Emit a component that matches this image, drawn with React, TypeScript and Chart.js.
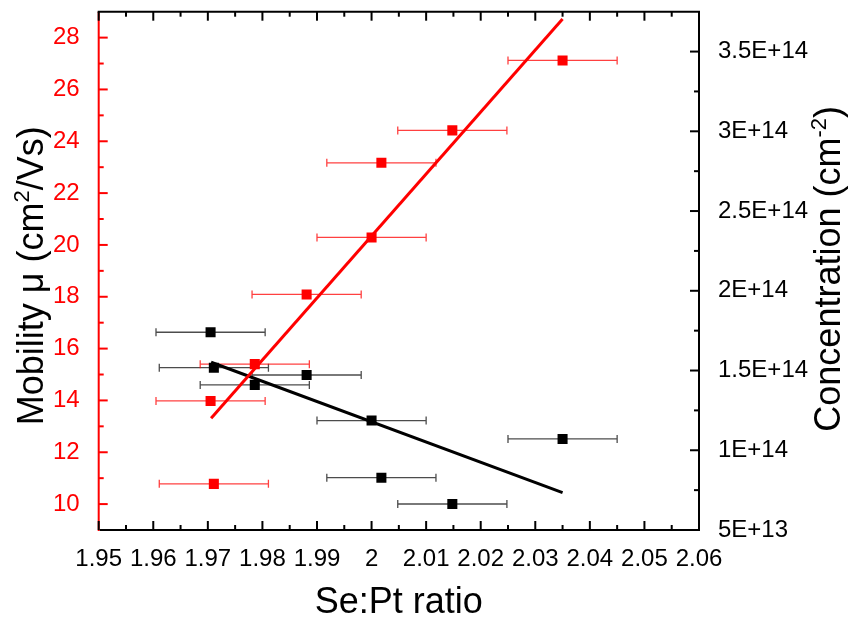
import React, { useEffect, useRef } from 'react';
import { Chart, registerables } from 'chart.js';

Chart.register(...registerables);

// ---- data ----
const ratio = [1.9705, 1.9711, 1.9786, 1.9881, 2.0, 2.0018, 2.0148, 2.035];
const ratioErr = [0.01, 0.01, 0.01, 0.01, 0.01, 0.01, 0.01, 0.01];
const mobility = [13.98, 10.78, 15.4, 18.09, 20.29, 23.17, 24.42, 27.12];
const concentration = [1.74e14, 1.518e14, 1.41e14, 1.472e14, 1.186e14, 8.28e13, 6.63e13, 1.071e14];

const fitRatio = [1.9706, 2.035];
const mobilityFit = [13.31, 28.72];
const concentrationFit = [1.552e14, 7.34e13];

const xTicks = [1.95, 1.96, 1.97, 1.98, 1.99, 2.0, 2.01, 2.02, 2.03, 2.04, 2.05, 2.06];
const yTicks = [10, 12, 14, 16, 18, 20, 22, 24, 26, 28];
const y2Ticks = [5e13, 1e14, 1.5e14, 2e14, 2.5e14, 3e14, 3.5e14];

const FONT = "'Liberation Sans', Arial, sans-serif";
const RED = '#ff0000';
const BLACK = '#000000';

type Part = { t: string; sup?: boolean };

function drawRich(ctx: CanvasRenderingContext2D, parts: Part[], size: number, cx: number, cy: number, rot: number, color: string) {
  ctx.save();
  ctx.translate(cx, cy);
  ctx.rotate(rot);
  ctx.fillStyle = color;
  ctx.textBaseline = 'alphabetic';
  ctx.textAlign = 'left';
  const supSize = Math.round(size * 0.62);
  let total = 0;
  const widths = parts.map((p) => {
    ctx.font = `${p.sup ? supSize : size}px ${FONT}`;
    const w = ctx.measureText(p.t).width;
    total += w;
    return w;
  });
  let x = -total / 2;
  parts.forEach((p, i) => {
    ctx.font = `${p.sup ? supSize : size}px ${FONT}`;
    ctx.fillText(p.t, x, p.sup ? -size * 0.38 : 0);
    x += widths[i];
  });
  ctx.restore();
}

const mids = (arr: number[]) => arr.slice(0, -1).map((v, i) => (v + arr[i + 1]) / 2);

const errorBarPlugin = {
  id: 'errorBars',
  beforeDatasetsDraw(chart: any) {
    const ctx = chart.ctx as CanvasRenderingContext2D;
    const xs = chart.scales.x;
    const series = [
      { vals: concentration, scale: chart.scales.y2, color: 'rgba(0,0,0,0.7)' },
      { vals: mobility, scale: chart.scales.y, color: 'rgba(255,0,0,0.75)' },
    ];
    ctx.save();
    ctx.lineWidth = 1.3;
    series.forEach((s) => {
      ctx.strokeStyle = s.color;
      s.vals.forEach((v, i) => {
        const y = s.scale.getPixelForValue(v);
        const x1 = xs.getPixelForValue(ratio[i] - ratioErr[i]);
        const x2 = xs.getPixelForValue(ratio[i] + ratioErr[i]);
        ctx.beginPath();
        ctx.moveTo(x1, y);
        ctx.lineTo(x2, y);
        ctx.moveTo(x1, y - 4);
        ctx.lineTo(x1, y + 4);
        ctx.moveTo(x2, y - 4);
        ctx.lineTo(x2, y + 4);
        ctx.stroke();
      });
    });
    ctx.restore();
  },
};

const framePlugin = {
  id: 'frame',
  afterDraw(chart: any) {
    const ctx = chart.ctx as CanvasRenderingContext2D;
    const ca = chart.chartArea;
    const xs = chart.scales.x;
    const ys = chart.scales.y;
    const y2 = chart.scales.y2;
    const MAJ = 9;
    const MIN = 5;
    ctx.save();
    ctx.lineWidth = 2;
    const seg = (a: number, b: number, c: number, d: number) => {
      ctx.beginPath();
      ctx.moveTo(a, b);
      ctx.lineTo(c, d);
      ctx.stroke();
    };
    // left (red) axis
    ctx.strokeStyle = RED;
    seg(ca.left, ca.top, ca.left, ca.bottom + 1);
    yTicks.forEach((v) => {
      const p = ys.getPixelForValue(v);
      seg(ca.left, p, ca.left + MAJ, p);
    });
    mids(yTicks).concat([yTicks[0] - 1]).forEach((v) => {
      const p = ys.getPixelForValue(v);
      if (p < ca.bottom - 1) seg(ca.left, p, ca.left + MIN, p);
    });
    // black axes
    ctx.strokeStyle = BLACK;
    seg(ca.right, ca.top, ca.right, ca.bottom);
    seg(ca.left + 1, ca.bottom, ca.right + 1, ca.bottom);
    seg(ca.left - 1, ca.top, ca.right + 1, ca.top);
    xTicks.forEach((v) => {
      const p = xs.getPixelForValue(v);
      seg(p, ca.bottom, p, ca.bottom - MAJ);
      seg(p, ca.top, p, ca.top + MAJ);
    });
    mids(xTicks).forEach((v) => {
      const p = xs.getPixelForValue(v);
      seg(p, ca.bottom, p, ca.bottom - MIN);
      seg(p, ca.top, p, ca.top + MIN);
    });
    y2Ticks.forEach((v) => {
      const p = y2.getPixelForValue(v);
      seg(ca.right, p, ca.right - MAJ, p);
    });
    mids(y2Ticks).forEach((v) => {
      const p = y2.getPixelForValue(v);
      seg(ca.right, p, ca.right - MIN, p);
    });
    ctx.restore();

    // axis titles
    const cy = (ca.top + ca.bottom) / 2;
    drawRich(ctx, [{ t: 'Mobility μ (cm' }, { t: '2', sup: true }, { t: '/Vs)' }], 36, 43, cy + 5, -Math.PI / 2, BLACK);
    drawRich(ctx, [{ t: 'Concentration (cm' }, { t: '-2', sup: true }, { t: ')' }], 36, 840, cy - 2, -Math.PI / 2, BLACK);
    drawRich(ctx, [{ t: 'Se:Pt ratio' }], 36, (ca.left + ca.right) / 2, 613, 0, BLACK);
  },
};

export default function App() {
  const ref = useRef<HTMLCanvasElement>(null);

  useEffect(() => {
    const pts = (ys: number[]) => ratio.map((x, i) => ({ x, y: ys[i] }));
    const fit = (ys: number[]) => fitRatio.map((x, i) => ({ x, y: ys[i] }));
    const chart = new Chart(ref.current as HTMLCanvasElement, {
      type: 'scatter',
      data: {
        datasets: [
          {
            label: 'Mobility',
            data: pts(mobility),
            yAxisID: 'y',
            pointStyle: 'rect',
            pointRadius: 7.1,
            pointBackgroundColor: RED,
            pointBorderColor: RED,
            pointBorderWidth: 0,
            showLine: false,
          },
          {
            label: 'Concentration',
            data: pts(concentration),
            yAxisID: 'y2',
            pointStyle: 'rect',
            pointRadius: 7.1,
            pointBackgroundColor: BLACK,
            pointBorderColor: BLACK,
            pointBorderWidth: 0,
            showLine: false,
          },
          {
            label: 'Mobility fit',
            data: fit(mobilityFit),
            yAxisID: 'y',
            showLine: true,
            borderColor: RED,
            borderWidth: 3,
            pointRadius: 0,
            fill: false,
          },
          {
            label: 'Concentration fit',
            data: fit(concentrationFit),
            yAxisID: 'y2',
            showLine: true,
            borderColor: BLACK,
            borderWidth: 3,
            pointRadius: 0,
            fill: false,
          },
        ],
      },
      options: {
        responsive: false,
        animation: false,
        events: [],
        layout: { padding: { top: 11.7, left: 0, right: 0, bottom: 0 } },
        plugins: { legend: { display: false }, tooltip: { enabled: false }, title: { display: false } },
        scales: {
          x: {
            type: 'linear',
            position: 'bottom',
            min: 1.95,
            max: 2.06,
            afterBuildTicks: (s: any) => {
              s.ticks = xTicks.map((v) => ({ value: v }));
            },
            afterFit: (s: any) => {
              s.height = 87;
              s.paddingLeft = 0;
              s.paddingRight = 0;
            },
            grid: { display: false },
            border: { display: false },
            ticks: {
              autoSkip: false,
              maxRotation: 0,
              minRotation: 0,
              padding: 7,
              color: BLACK,
              font: { family: FONT, size: 24 },
              callback: (v: any) => String(Number(Number(v).toFixed(2))),
            },
          },
          y: {
            type: 'linear',
            position: 'left',
            min: 9,
            max: 29,
            afterBuildTicks: (s: any) => {
              s.ticks = yTicks.map((v) => ({ value: v }));
            },
            afterFit: (s: any) => {
              s.width = 98.7;
              s.paddingTop = 0;
              s.paddingBottom = 0;
            },
            grid: { display: false },
            border: { display: false },
            ticks: {
              padding: 11,
              color: RED,
              font: { family: FONT, size: 24 },
              callback: (v: any) => String(v),
            },
          },
          y2: {
            type: 'linear',
            position: 'right',
            min: 5e13,
            max: 3.75e14,
            afterBuildTicks: (s: any) => {
              s.ticks = y2Ticks.map((v) => ({ value: v }));
            },
            afterFit: (s: any) => {
              s.width = 152;
              s.paddingTop = 0;
              s.paddingBottom = 0;
            },
            grid: { display: false },
            border: { display: false },
            ticks: {
              padding: 11,
              color: BLACK,
              font: { family: FONT, size: 24 },
              callback: (v: any) => Number(v).toExponential().replace('e', 'E'),
            },
          },
        },
      },
      plugins: [errorBarPlugin, framePlugin],
    } as any);
    return () => chart.destroy();
  }, []);

  return (
    <div style={{ position: 'absolute', left: 0, top: 0, width: 851, height: 617, background: '#fff' }}>
      <canvas ref={ref} width={851} height={617} style={{ display: 'block', width: 851, height: 617 }} />
    </div>
  );
}
